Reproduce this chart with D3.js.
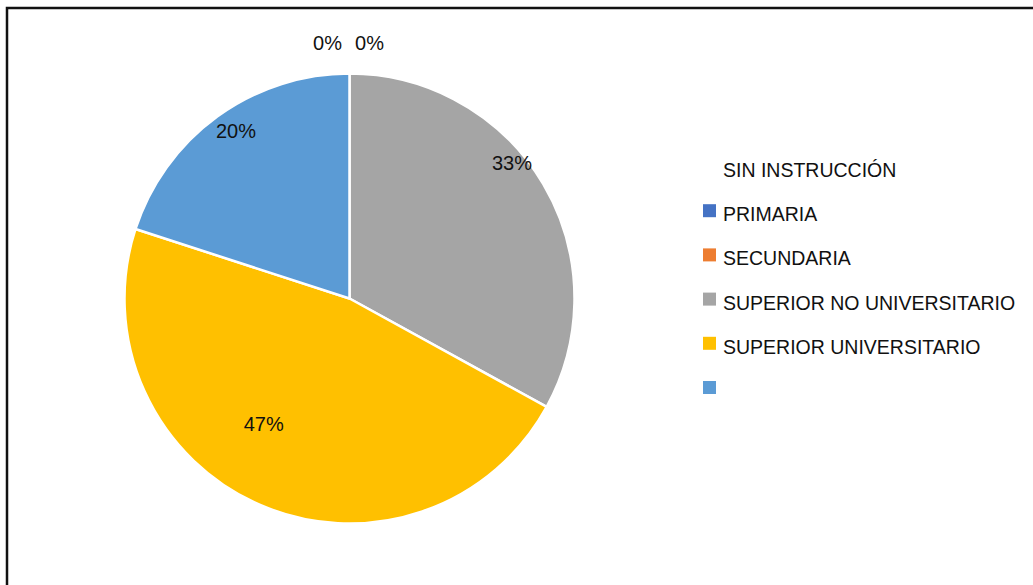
<!DOCTYPE html>
<html>
<head>
<meta charset="utf-8">
<script src="https://cdn.jsdelivr.net/npm/d3@7"></script>
<style>
  html, body { margin: 0; padding: 0; background: #fff; }
  svg { display: block; }
  text { font-family: "Liberation Sans", Arial, sans-serif; fill: #111; }
</style>
</head>
<body>
<svg id="chart" width="1033" height="585"></svg>
<script>
// Nivel de instrucción (porcentaje)
const legendTitle = "SIN INSTRUCCIÓN";
const categories = ["PRIMARIA", "SECUNDARIA", "SUPERIOR NO UNIVERSITARIO", "SUPERIOR UNIVERSITARIO", ""];
const values = [0, 0, 33, 47, 20];
const colors = ["#4472C4", "#ED7D31", "#A5A5A5", "#FFC000", "#5B9BD5"];

const data = categories.map((c, i) => ({ category: c, value: values[i], color: colors[i] }));

const svg = d3.select("#chart");
const W = 1033, H = 585;

// chart frame (runs off the right and bottom edges)
svg.append("rect")
  .attr("x", 7).attr("y", 8)
  .attr("width", W + 20).attr("height", H + 20)
  .attr("fill", "#fff")
  .attr("stroke", "#111")
  .attr("stroke-width", 2.5);

const cx = 349.5, cy = 298.5, R = 225;

const pie = d3.pie().sort(null).value(d => d.value);
const arcs = pie(data);
const arc = d3.arc().innerRadius(0).outerRadius(R);

const g = svg.append("g").attr("transform", `translate(${cx},${cy})`);

g.selectAll("path.slice")
  .data(arcs)
  .join("path")
  .attr("class", "slice")
  .attr("d", arc)
  .attr("fill", d => d.data.color)
  .attr("stroke", "#fff")
  .attr("stroke-width", 2.5)
  .attr("stroke-linejoin", "round");

// label placement: angle shift (degrees) and radius as fraction of R
const labelLayout = [
  { da: 0, rf: 1.135, dx: -22 },
  { da: 0, rf: 1.135, dx: 20 },
  { da: -9.2, rf: 0.94, dx: 0 },
  { da: 11, rf: 0.675, dx: 0 },
  { da: 1.9, rf: 0.9, dx: 0 }
];

const total = d3.sum(values);
g.selectAll("text.pct")
  .data(arcs)
  .join("text")
  .attr("class", "pct")
  .attr("text-anchor", "middle")
  .attr("dominant-baseline", "central")
  .attr("font-size", 20)
  .attr("transform", (d, i) => {
    const L = labelLayout[i];
    const a = (d.startAngle + d.endAngle) / 2 + L.da * Math.PI / 180;
    const r = R * L.rf;
    return `translate(${r * Math.sin(a) + L.dx},${-r * Math.cos(a)})`;
  })
  .text(d => Math.round(d.data.value / total * 100) + "%");

// legend
const legendRows = [{ label: legendTitle, color: null }]
  .concat(data.map(d => ({ label: d.category, color: d.color })));

const ly = d3.scaleLinear().domain([0, legendRows.length - 1]).range([170, 391]);

const lg = svg.append("g");
const row = lg.selectAll("g.row")
  .data(legendRows)
  .join("g")
  .attr("class", "row")
  .attr("transform", (d, i) => `translate(703,${ly(i)})`);

row.filter(d => d.color)
  .append("rect")
  .attr("x", 0).attr("y", -10)
  .attr("width", 13).attr("height", 13)
  .attr("fill", d => d.color);

row.append("text")
  .attr("x", 20)
  .attr("y", 7)
  .attr("font-size", 19.5)
  .text(d => d.label);
</script>
</body>
</html>
